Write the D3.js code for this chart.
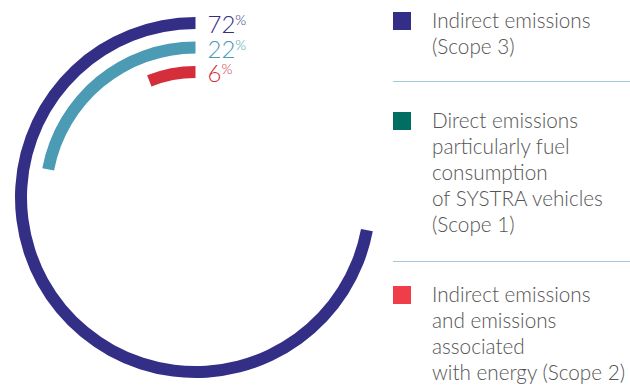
<!DOCTYPE html>
<html>
<head>
<meta charset="utf-8">
<script src="https://cdn.jsdelivr.net/npm/d3@7.9.0/dist/d3.min.js"></script>
<style>
  html, body { margin: 0; padding: 0; background: #fff; }
  svg { display: block; }
  text { font-family: Lato, "Open Sans", sans-serif; }
</style>
</head>
<body>
<div id="chart"></div>
<script>
// ---- data ----
const shares = [72, 22, 6];
const shareColors = ['#332e86', '#4b9bb4', '#d42e3a'];
const legendColors = ['#332e86', '#006e62', '#ef3e4a'];
const legendLabels = [
  ['Indirect emissions', '(Scope 3)'],
  ['Direct emissions', 'particularly fuel', 'consumption', 'of SYSTRA vehicles', '(Scope 1)'],
  ['Indirect emissions', 'and emissions', 'associated', 'with energy (Scope 2)']
];

const width = 630;
const height = 389;
const cx = 195.5, cy = 197.5;
const ringOuter = 180.5, ringWidth = 12, ringStep = 24.5;

const svg = d3.select('#chart').append('svg')
  .attr('width', width)
  .attr('height', height);

// share -> angle, counterclockwise from 12 o'clock
const angle = d3.scaleLinear().domain([0, 100]).range([0, -2 * Math.PI]);

const arc = d3.arc()
  .innerRadius((d, i) => ringOuter - i * ringStep - ringWidth)
  .outerRadius((d, i) => ringOuter - i * ringStep)
  .startAngle(0)
  .endAngle(d => angle(d));

const rings = svg.append('g').attr('transform', `translate(${cx},${cy})`);
rings.selectAll('path')
  .data(shares)
  .join('path')
  .attr('d', (d, i) => arc(d, i))
  .attr('fill', (d, i) => shareColors[i]);

// percentage labels next to the arc starts
const labels = svg.append('g');
shares.forEach((d, i) => {
  const t = labels.append('text')
    .attr('x', cx + 12)
    .attr('y', cy - (ringOuter - i * ringStep) + 16)
    .attr('fill', shareColors[i])
    .attr('font-size', 24)
    .attr('font-weight', 300);
  t.append('tspan').text(d);
  t.append('tspan').attr('font-size', 14).attr('dy', -8).text('%');
});

// ---- legend ----
const legendX = 393;
const textX = 432;
const groupTops = [12, 112, 286];
const dividers = [81, 261];
const lineH = 26;

const legend = svg.append('g');

legend.selectAll('line')
  .data(dividers)
  .join('line')
  .attr('x1', legendX)
  .attr('x2', width)
  .attr('y1', d => d + 0.5)
  .attr('y2', d => d + 0.5)
  .attr('stroke', '#a8c8dc')
  .attr('stroke-width', 1);

legendLabels.forEach((lines, i) => {
  legend.append('rect')
    .attr('x', legendX)
    .attr('y', groupTops[i])
    .attr('width', 18)
    .attr('height', 18)
    .attr('fill', legendColors[i]);

  const t = legend.append('text')
    .attr('x', textX)
    .attr('y', groupTops[i] + 16)
    .attr('fill', '#555')
    .attr('font-size', 20.7)
    .attr('font-weight', 300);
  t.selectAll('tspan')
    .data(lines)
    .join('tspan')
    .attr('x', textX)
    .attr('dy', (d, j) => j === 0 ? 0 : lineH)
    .text(d => d);
});
</script>
</body>
</html>
